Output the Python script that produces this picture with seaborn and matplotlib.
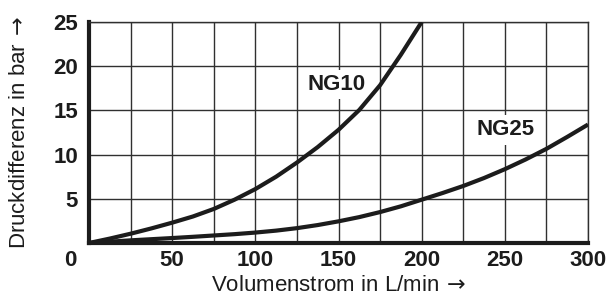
import pandas as pd
import seaborn as sns
import matplotlib.pyplot as plt
from matplotlib.transforms import ScaledTranslation

flow_ng10 = [0, 12.5, 25, 37.5, 50, 62.5, 75, 87.5, 100, 112.5, 125, 137.5,
             150, 162.5, 175, 187.5, 200]
dp_ng10 = [0, 0.5, 1.05, 1.65, 2.3, 3.0, 3.85, 4.9, 6.1, 7.5, 9.1, 10.85,
           12.8, 15.05, 17.85, 21.3, 25.0]

flow_ng25 = [0, 12.5, 25, 37.5, 50, 62.5, 75, 87.5, 100, 112.5, 125, 137.5,
             150, 162.5, 175, 187.5, 200, 212.5, 225, 237.5, 250, 262.5,
             275, 287.5, 300]
dp_ng25 = [0, 0.15, 0.3, 0.43, 0.56, 0.7, 0.85, 1.0, 1.18, 1.4, 1.68, 2.03,
           2.45, 2.93, 3.5, 4.15, 4.9, 5.65, 6.45, 7.35, 8.35, 9.45,
           10.65, 12.0, 13.4]

x_ticks = [0, 50, 100, 150, 200, 250, 300]
y_ticks = [5, 10, 15, 20, 25]
x_grid = [0, 25, 50, 75, 100, 125, 150, 175, 200, 225, 250, 275, 300]

curve_labels = {'NG10': (149, 17.9), 'NG25': (250.5, 12.8)}

sns.set_style('white')
plt.rcParams['font.family'] = ['Liberation Sans', 'DejaVu Sans']
plt.rcParams['mathtext.fontset'] = 'dejavusans'

df = pd.concat([
    pd.DataFrame({'flow': flow_ng10, 'dp': dp_ng10, 'size': 'NG10'}),
    pd.DataFrame({'flow': flow_ng25, 'dp': dp_ng25, 'size': 'NG25'}),
])

fig = plt.figure(figsize=(6.08, 3.0), dpi=100)
ax = fig.add_axes([89 / 608, 57 / 300, 499 / 608, 221 / 300])

ink = '#1c1c1c'
sns.lineplot(data=df, x='flow', y='dp', units='size', estimator=None,
             color=ink, linewidth=3.0, ax=ax, legend=False, sort=False,
             zorder=3, solid_capstyle='butt', solid_joinstyle='round')

ax.set_xlim(0, 300)
ax.set_ylim(0, 25)
ax.set_xticks(x_grid, minor=True)
ax.set_xticks(x_ticks)
ax.set_yticks(y_ticks)
ax.grid(True, which='both', axis='x', color='#303030', linewidth=1.0)
ax.grid(True, which='major', axis='y', color='#303030', linewidth=1.0)
ax.set_axisbelow(True)

for side in ['left', 'bottom']:
    ax.spines[side].set_linewidth(3.0)
    ax.spines[side].set_color(ink)
for side in ['top', 'right']:
    ax.spines[side].set_linewidth(1.0)
    ax.spines[side].set_color('#303030')

ax.tick_params(axis='both', which='both', length=0, labelsize=16)
ax.tick_params(axis='x', pad=5)
ax.tick_params(axis='y', pad=8)
for lab in ax.get_xticklabels() + ax.get_yticklabels():
    lab.set_fontweight('bold')
    lab.set_color(ink)

# the corner "0" sits left of the axis in the original
zero = ax.get_xticklabels()[0]
zero.set_transform(zero.get_transform() + ScaledTranslation(-19 / 100, 0, fig.dpi_scale_trans))

ax.set_xlabel('Volumenstrom in L/min$\\,\\rightarrow$', fontsize=16, color=ink, labelpad=3)
ax.set_ylabel('Druckdifferenz in bar$\\,\\rightarrow$', fontsize=16, color=ink, labelpad=17)

for name, (tx, ty) in curve_labels.items():
    ax.text(tx, ty, name, ha='center', va='center', fontsize=16,
            fontweight='bold', color=ink, zorder=2,
            bbox=dict(facecolor='white', edgecolor='none', pad=3))

fig.savefig('out.png', dpi=100)
